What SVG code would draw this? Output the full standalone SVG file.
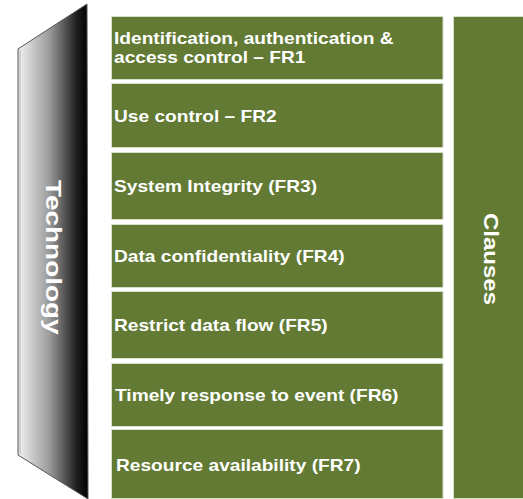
<svg xmlns="http://www.w3.org/2000/svg" width="523" height="499" viewBox="0 0 523 499">
<defs>
<linearGradient id="techGrad" x1="18" y1="0" x2="88" y2="0" gradientUnits="userSpaceOnUse">
<stop offset="0" stop-color="#f2f2f2"/>
<stop offset="0.45" stop-color="#9a9a9a"/>
<stop offset="0.85" stop-color="#1c1c1c"/>
<stop offset="1" stop-color="#000000"/>
</linearGradient>
<style>
.box{fill:#627a34;stroke:#d9e0cc;stroke-width:1}
.lbl{font-family:"Liberation Sans",Arial,sans-serif;font-weight:bold;font-size:16.5px;fill:#ffffff}
.vlbl{font-family:"Liberation Sans",Arial,sans-serif;font-weight:bold;fill:#ffffff}
</style>
</defs>
<rect width="523" height="499" fill="#ffffff"/>
<g id="technology">
<polygon points="18,49 87,4 88,499 18,455" fill="url(#techGrad)" stroke="#555555" stroke-width="1"/>
<line x1="20" y1="50" x2="20" y2="454" stroke="#cfcfcf" stroke-width="2"/>
<text class="vlbl" font-size="22" transform="translate(46,180) rotate(90) scale(1.27,1)" x="0" y="0">Technology</text>
</g>
<g id="fr1">
<rect class="box" x="111.5" y="16.5" width="331.5" height="63"/>
<text class="lbl" transform="translate(114,44) scale(1.16,1)">Identification, authentication &amp;</text>
<text class="lbl" transform="translate(114,63) scale(1.16,1)">access control – FR1</text>
</g>
<g id="fr2">
<rect class="box" x="111.5" y="83.5" width="331.5" height="64"/>
<text class="lbl" transform="translate(114,122) scale(1.16,1)">Use control – FR2</text>
</g>
<g id="fr3">
<rect class="box" x="111.5" y="152.5" width="331.5" height="67"/>
<text class="lbl" transform="translate(114,192) scale(1.16,1)">System Integrity (FR3)</text>
</g>
<g id="fr4">
<rect class="box" x="111.5" y="224.5" width="331.5" height="63"/>
<text class="lbl" transform="translate(114,262) scale(1.16,1)">Data confidentiality (FR4)</text>
</g>
<g id="fr5">
<rect class="box" x="111.5" y="291.5" width="331.5" height="67"/>
<text class="lbl" transform="translate(114,331) scale(1.16,1)">Restrict data flow (FR5)</text>
</g>
<g id="fr6">
<rect class="box" x="111.5" y="363.5" width="331.5" height="63"/>
<text class="lbl" transform="translate(115,401) scale(1.16,1)">Timely response to event (FR6)</text>
</g>
<g id="fr7">
<rect class="box" x="111.5" y="429.5" width="331.5" height="69"/>
<text class="lbl" transform="translate(116,471) scale(1.16,1)">Resource availability (FR7)</text>
</g>
<g id="clauses">
<rect class="box" x="453.5" y="16.5" width="72" height="482"/>
<text class="vlbl" font-size="20" transform="translate(484,213) rotate(90) scale(1.2,1)" x="0" y="0">Clauses</text>
</g>
<g id="connectors"/>
</svg>
